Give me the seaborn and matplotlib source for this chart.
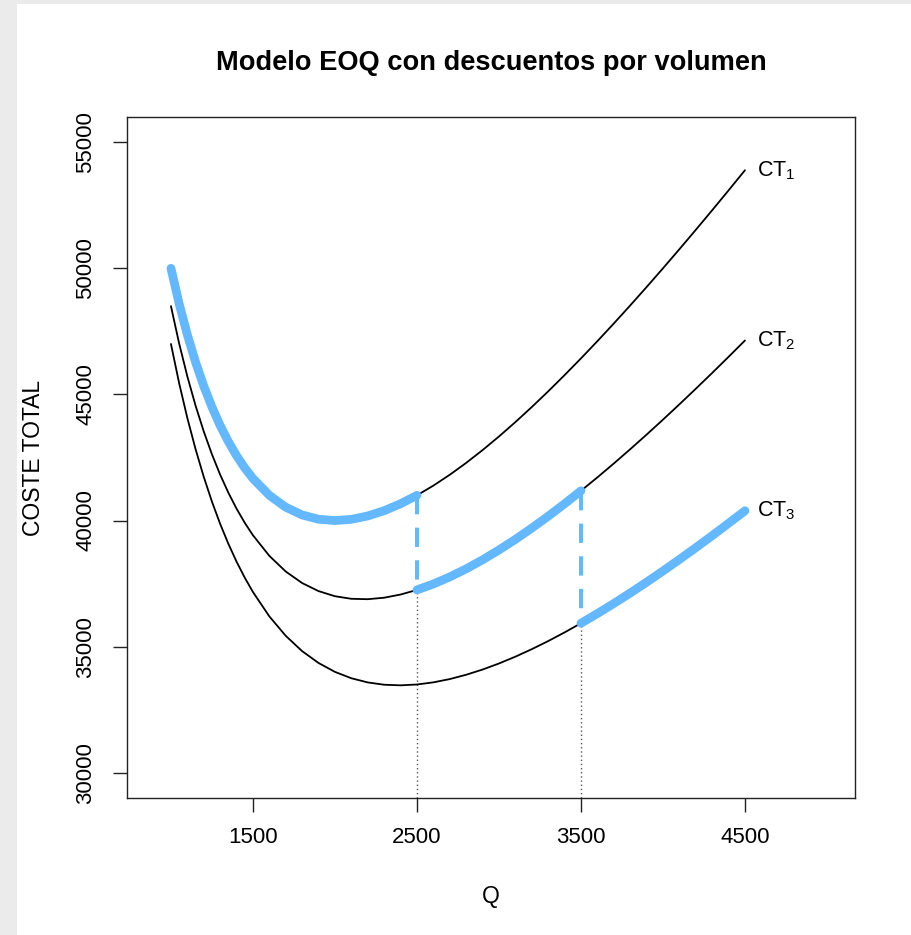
import matplotlib
matplotlib.use("Agg")
import numpy as np
import pandas as pd
import matplotlib.pyplot as plt
import seaborn as sns
from matplotlib.patches import Rectangle

# ---------------- data ----------------
Q = [1000, 1050, 1100, 1150, 1200, 1250, 1300, 1350, 1400, 1450,
     1500, 1600, 1700, 1800, 1900,
     2000, 2100, 2200, 2300, 2400, 2500, 2600, 2700, 2800, 2900,
     3000, 3100, 3200, 3300, 3400, 3500, 3600, 3700, 3800, 3900,
     4000, 4100, 4200, 4300, 4400, 4500]
CT1 = [50000, 48595, 47364, 46283, 45333, 44500, 43769, 43130, 42571, 42086,
       41667, 41000, 40529, 40222, 40053,
       40000, 40048, 40182, 40391, 40667, 41000, 41385, 41815, 42286, 42793,
       43333, 43903, 44500, 45121, 45765, 46429, 47111, 47811, 48526, 49256,
       50000, 50756, 51524, 52302, 53091, 53889]
CT2 = [48500, 47020, 45714, 44558, 43533, 42625, 41819, 41105, 40471, 39911,
       39417, 38600, 37979, 37522, 37203,
       37000, 36898, 36882, 36941, 37067, 37250, 37485, 37765, 38086, 38443,
       38833, 39253, 39700, 40171, 40665, 41179, 41711, 42261, 42826, 43406,
       44000, 44606, 45224, 45852, 46491, 47139]
CT3 = [47000, 45445, 44064, 42833, 41733, 40750, 39869, 39080, 38371, 37736,
       37167, 36200, 35429, 34822, 34353,
       34000, 33748, 33582, 33491, 33467, 33500, 33585, 33715, 33886, 34093,
       34333, 34603, 34900, 35221, 35565, 35929, 36311, 36711, 37126, 37556,
       38000, 38456, 38924, 39402, 39891, 40389]
breaks = [2500, 3500]
curve_labels = ["CT$_1$", "CT$_2$", "CT$_3$"]
x_ticks = [1500, 2500, 3500, 4500]
y_ticks = [30000, 35000, 40000, 45000, 50000, 55000]
title = "Modelo EOQ con descuentos por volumen"
x_label = "Q"
y_label = "COSTE TOTAL"

# ---------------- style ----------------
sns.set_theme(style="white")
plt.rcParams['font.family'] = ['Liberation Sans', 'DejaVu Sans']
plt.rcParams['mathtext.default'] = 'regular'

BLUE = "#63B8FF"
W, H = 912, 935
fig = plt.figure(figsize=(W / 100, H / 100), dpi=100, facecolor="#ebebeb")
fig.patches.append(Rectangle((17 / W, 0), 1 - 17 / W, 1 - 4 / H,
                             transform=fig.transFigure, facecolor="white",
                             edgecolor="none", zorder=-10))
left, right, top, bottom = 127, 855, 117, 798
ax = fig.add_axes([left / W, 1 - bottom / H, (right - left) / W, (bottom - top) / H])
ax.set_zorder(5)
ax.set_facecolor("white")

curves = [CT1, CT2, CT3]
n = len(Q)
df = pd.DataFrame({
    "Q": Q * 3,
    "CT": CT1 + CT2 + CT3,
    "curve": sum([[i] * n for i in range(3)], []),
})

# black total-cost curves
sns.lineplot(data=df, x="Q", y="CT", units="curve", estimator=None,
             color="black", linewidth=1.3, ax=ax, sort=False, zorder=2)

# optimal (blue) path
bounds = [min(Q)] + breaks + [max(Q)]
seg_rows = []
for i, c in enumerate(curves):
    lo, hi = bounds[i], bounds[i + 1]
    for q, v in zip(Q, c):
        if lo <= q <= hi:
            seg_rows.append({"Q": q, "CT": v, "seg": i})
seg = pd.DataFrame(seg_rows)
sns.lineplot(data=seg, x="Q", y="CT", units="seg", estimator=None,
             color=BLUE, linewidth=6.3, ax=ax, sort=False,
             solid_capstyle="round", zorder=3)

ylim = (29000, 56000)
for i, b in enumerate(breaks):
    k = Q.index(b)
    upper = curves[i][k]
    lower = curves[i + 1][k]
    ax.plot([b, b], [upper, lower], color=BLUE, linewidth=2.9,
            linestyle=(0, (4.8, 3.3)), dash_capstyle="butt", zorder=3)
    ax.plot([b, b], [ylim[0], lower], color="#555555", linewidth=1.0,
            linestyle=(0, (1, 2)), zorder=1)

# curve labels
for lab, c in zip(curve_labels, curves):
    ax.annotate(lab, xy=(Q[-1], c[-1]), xytext=(9, 0), textcoords="offset points",
                ha="left", va="center", fontsize=15.5, color="black")

ax.set_xlim(732, 5171)
ax.set_ylim(*ylim)
ax.set_xticks(x_ticks)
ax.set_xticklabels([str(t) for t in x_ticks])
ax.set_yticks(y_ticks)
ax.set_yticklabels([str(t) for t in y_ticks], rotation=90, va="center")
ax.tick_params(axis="both", which="both", bottom=True, left=True, top=False, right=False,
               direction="out", length=10, width=1.0, color="#222222",
               labelsize=16, labelcolor="black")
ax.tick_params(axis="x", pad=11)
ax.tick_params(axis="y", pad=12)
for s in ax.spines.values():
    s.set_visible(True)
    s.set_color("#222222")
    s.set_linewidth(1.0)

ax.set_xlabel(x_label, fontsize=16.5, color="black")
ax.set_ylabel(y_label, fontsize=16.5, color="black")
ax.xaxis.set_label_coords(0.5, (bottom - 897) / (bottom - top))
ax.xaxis.label.set_va("center")
ax.yaxis.set_label_coords((34 - left) / (right - left), 0.5)
ax.yaxis.label.set_va("center")

ax.text(0.5, (bottom - 63) / (bottom - top), title, transform=ax.transAxes,
        ha="center", va="center", fontsize=19.6, fontweight="bold", color="black")

fig.savefig("out.png", dpi=100, facecolor=fig.get_facecolor())
